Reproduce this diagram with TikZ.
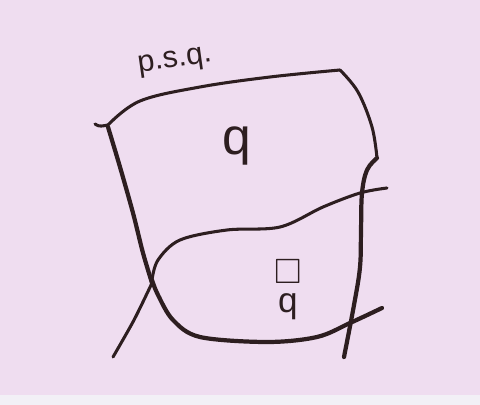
\documentclass[tikz,border=0pt]{standalone}
\usepackage{fontspec}
\usepackage{amssymb}
\usetikzlibrary{positioning}
\setsansfont{Liberation Sans}
\definecolor{papier}{RGB}{239,221,240}
\definecolor{bord}{RGB}{242,240,246}
\definecolor{encre}{RGB}{45,30,32}
\begin{document}
\begin{tikzpicture}[x=0.03cm,y=-0.03cm,
    trait/.style={encre,line width=2.6pt,line cap=round,line join=round},
    gros/.style={encre,line width=3.6pt,line cap=round,line join=round},
    main/.style={encre,font=\sffamily,inner sep=1pt}]
    \fill[papier] (0,0) rectangle (480,405);
    \fill[bord] (0,395) rectangle (480,405);
    \useasboundingbox (0,0) rectangle (480,405);
    % le cadre
    \draw[trait] (95,124) to[out=-40,in=190] (108,125);
    \draw[trait] plot[smooth,tension=.6] coordinates {(108,125) (140,101) (200,87) (270,77) (340,70)};
    \draw[trait] plot[smooth,tension=.6] coordinates {(340,70) (358,92) (372,127) (377,158)};
    \draw[gros] plot[smooth,tension=.6] coordinates {(377,158) (367,170) (362,193) (361,230) (360,267) (354,305) (344,357)};
    \draw[gros] plot[smooth,tension=.5] coordinates {(108,127) (120,167) (133,213) (143,253) (152,283)};
    \draw[trait] plot[smooth,tension=.5] coordinates {(152,283) (134,320) (113,357)};
    % la courbe du milieu
    \draw[trait] plot[smooth,tension=.55] coordinates {(387,188) (360,193) (323,207) (280,227) (227,230) (180,240) (158,260) (152,280)};
    \draw[gros] plot[smooth,tension=.55] coordinates {(152,280) (158,295) (173,320) (200,337) (267,342) (317,337) (350,323) (382,308)};
    % les textes
    \node[main,font=\sffamily\fontsize{26}{26}\selectfont,rotate=8] (P) at (175,62) {p.s.q.};
    \node[main,font=\sffamily\fontsize{44}{44}\selectfont] (Q) at (237,146) {q};
    \node[main,font=\fontsize{30}{30}\selectfont] (B) at (288,272) {$\Box$};
    \node[main,font=\sffamily\fontsize{30}{30}\selectfont,below=6pt of B] (R) {q};
\end{tikzpicture}
\end{document}
